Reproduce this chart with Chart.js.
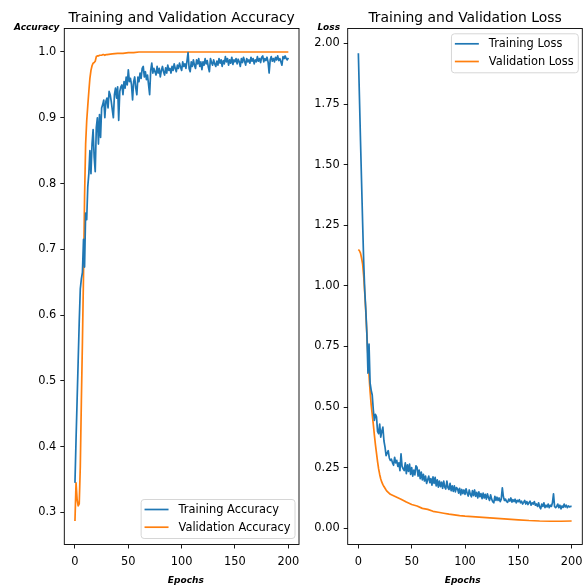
<!DOCTYPE html>
<html><head><meta charset="utf-8">
<script src="https://cdn.jsdelivr.net/npm/chart.js@4/dist/chart.umd.min.js"></script>
<style>
html,body{margin:0;padding:0;background:#fff;overflow:hidden;}
canvas{position:absolute;top:0;}
#c1{left:0;}
#c2{left:302px;}
</style></head><body>
<canvas id="c1" width="302" height="588"></canvas>
<canvas id="c2" width="284" height="588"></canvas>
<script>
// ---------- data ----------
const epochs = Array.from({length: 201}, (_, i) => i);
const trainAcc = [0.345,0.41,0.47,0.53,0.59,0.64,0.655,0.665,0.715,0.673,
0.755,0.745,0.795,0.815,0.85,0.815,0.86,0.882,0.84,0.818,
0.885,0.90,0.86,0.905,0.87,0.915,0.92,0.927,0.90,0.925,
0.93,0.915,0.94,0.935,0.925,0.912,0.90,0.935,0.945,0.93,
0.947,0.896,0.94,0.947,0.95,0.935,0.955,0.945,0.962,0.95,
0.973,0.955,0.96,0.95,0.927,0.955,0.962,0.945,0.935,0.962,
0.955,0.968,0.96,0.975,0.978,0.962,0.97,0.958,0.965,0.95,
0.935,0.972,0.983,0.968,0.975,0.97,0.965,0.978,0.968,0.975,
0.962,0.972,0.978,0.97,0.965,0.976,0.968,0.98,0.972,0.975,
0.968,0.978,0.972,0.982,0.975,0.97,0.98,0.975,0.983,0.977,
0.972,0.985,0.978,0.982,0.975,0.986,0.999,0.975,0.97,0.985,
0.978,0.988,0.98,0.975,0.988,0.982,0.99,0.978,0.985,0.973,
0.985,0.98,0.99,0.982,0.987,0.977,0.97,0.99,0.984,0.98,
0.988,0.982,0.978,0.986,0.98,0.99,0.983,0.988,0.978,0.987,
0.982,0.993,0.985,0.99,0.98,0.988,0.983,0.992,0.981,0.988,
0.985,0.99,0.982,0.989,0.985,0.978,0.99,0.984,0.992,0.986,
0.98,0.99,0.985,0.988,0.983,0.992,0.986,0.99,0.982,0.988,
0.985,0.993,0.986,0.99,0.984,0.992,0.994,0.985,0.99,0.987,
0.992,0.985,0.968,0.988,0.993,0.986,0.99,0.985,0.992,0.988,
0.994,0.987,0.99,0.985,0.98,0.993,0.99,0.994,0.99,0.988,
0.991];
const valAccEpochs = [0,1,2,3,4,5,6,7,8,9,10,11,12,13,14,15,16,17,18,19,20,21,22,23,24,25,26,27,28,29,30,
35,40,45,50,55,60,70,80,90,100,110,120,130,140,150,160,170,180,190,200];
const valAcc = [0.287,0.345,0.32,0.31,0.313,0.37,0.47,0.56,0.66,0.78,0.86,0.895,0.918,0.94,0.96,0.972,0.979,0.983,0.984,0.986,
0.993,0.994,0.994,0.995,0.995,0.995,0.996,0.996,0.995,0.996,0.996,
0.997,0.998,0.998,0.999,0.999,1.0,1.0,1.0,1.0,1.0,1.0,1.0,1.0,1.0,1.0,1.0,1.0,1.0,1.0,1.0];
const trainLoss = [1.96,1.78,1.60,1.43,1.26,1.10,0.98,0.90,0.80,0.64,
0.76,0.60,0.57,0.55,0.49,0.445,0.47,0.46,0.40,0.39,
0.43,0.376,0.40,0.417,0.36,0.335,0.30,0.31,0.32,0.29,
0.28,0.285,0.27,0.26,0.293,0.27,0.28,0.255,0.27,0.238,
0.307,0.255,0.245,0.238,0.27,0.225,0.262,0.235,0.265,0.222,
0.25,0.215,0.24,0.22,0.258,0.252,0.215,0.24,0.205,0.232,
0.2,0.222,0.195,0.215,0.185,0.2,0.215,0.188,0.205,0.178,
0.212,0.185,0.21,0.175,0.2,0.17,0.195,0.172,0.19,0.165,
0.195,0.17,0.162,0.195,0.168,0.16,0.185,0.155,0.175,0.152,
0.175,0.15,0.168,0.163,0.145,0.165,0.138,0.16,0.143,0.158,
0.14,0.163,0.145,0.133,0.158,0.14,0.13,0.155,0.135,0.158,
0.132,0.148,0.125,0.15,0.13,0.143,0.122,0.145,0.125,0.14,
0.12,0.142,0.126,0.115,0.138,0.12,0.11,0.105,0.132,0.115,
0.128,0.115,0.125,0.11,0.12,0.167,0.13,0.115,0.12,0.11,
0.107,0.12,0.112,0.125,0.108,0.118,0.11,0.12,0.105,0.115,
0.11,0.118,0.105,0.112,0.1,0.107,0.115,0.1,0.11,0.098,
0.105,0.112,0.095,0.105,0.1,0.11,0.095,0.1,0.09,0.105,
0.088,0.08,0.1,0.09,0.105,0.085,0.095,0.088,0.1,0.085,
0.095,0.09,0.105,0.142,0.09,0.085,0.09,0.1,0.085,0.095,
0.08,0.092,0.086,0.1,0.088,0.095,0.085,0.092,0.088,0.09,
0.09];
const valLossEpochs = [0,1,2,3,4,5,6,7,8,9,10,11,12,13,14,15,16,17,18,19,20,21,22,23,24,25,26,27,28,29,30,
35,40,45,50,55,60,65,70,75,80,85,90,95,100,110,120,130,140,150,160,170,180,190,200];
const valLoss = [1.15,1.145,1.135,1.115,1.09,1.04,0.97,0.89,0.80,0.71,0.63,0.565,0.51,0.47,0.43,0.385,0.345,0.31,0.275,0.245,
0.222,0.203,0.19,0.18,0.172,0.165,0.158,0.152,0.148,0.144,0.14,
0.13,0.12,0.108,0.098,0.092,0.082,0.078,0.07,0.066,0.062,0.058,0.055,0.052,0.05,
0.047,0.044,0.041,0.038,0.035,0.032,0.03,0.029,0.029,0.03];
const epochTicks = [0, 50, 100, 150, 200];
const accTicks = [0.3, 0.4, 0.5, 0.6, 0.7, 0.8, 0.9, 1.0];
const lossTicks = [0.0, 0.25, 0.5, 0.75, 1.0, 1.25, 1.5, 1.75, 2.0];

// ---------- helpers ----------
const BLUE = '#1f77b4', ORANGE = '#ff7f0e';
const FONT = '"DejaVu Sans", sans-serif';
const pts = (xs, ys) => xs.map((x, i) => ({x: x, y: ys[i]}));

const decor = {
  id: 'decor',
  afterDraw(chart, args, o) {
    const ctx = chart.ctx, a = chart.chartArea;
    ctx.save();
    // frame (all four spines)
    ctx.strokeStyle = '#000';
    ctx.lineWidth = 0.9;
    ctx.strokeRect(a.left, a.top, a.right - a.left, a.bottom - a.top);
    ctx.fillStyle = '#000';
    // title
    ctx.font = '13.9px ' + FONT;
    ctx.textAlign = 'center';
    ctx.textBaseline = 'alphabetic';
    ctx.fillText(o.title, (a.left + a.right) / 2, 22);
    // axis labels
    ctx.font = 'italic bold 9px ' + FONT;
    ctx.fillText(o.yLabel, o.yLabelX, 30);
    ctx.fillText(o.xLabel, o.xLabelX, 583);
    // legend
    const fs = 11.4;
    ctx.font = fs + 'px ' + FONT;
    const ds = chart.data.datasets;
    let tw = 0;
    ds.forEach(d => { tw = Math.max(tw, ctx.measureText(d.label).width); });
    const bw = 3.4 + 34 + tw + 4.6, bh = 39;
    const bx = a.right - 4 - bw;
    const by = o.legendPos === 'lower right' ? a.bottom - 6 - bh : a.top + 5.3;
    const r = 3;
    ctx.beginPath();
    ctx.moveTo(bx + r, by);
    ctx.arcTo(bx + bw, by, bx + bw, by + bh, r);
    ctx.arcTo(bx + bw, by + bh, bx, by + bh, r);
    ctx.arcTo(bx, by + bh, bx, by, r);
    ctx.arcTo(bx, by, bx + bw, by, r);
    ctx.closePath();
    ctx.fillStyle = 'rgba(255,255,255,0.8)';
    ctx.fill();
    ctx.strokeStyle = '#d6d6d6';
    ctx.lineWidth = 1;
    ctx.stroke();
    ctx.textAlign = 'left';
    ctx.textBaseline = 'middle';
    ds.forEach((d, i) => {
      const cy = by + 10 + i * 17.7;
      ctx.strokeStyle = d.borderColor;
      ctx.lineWidth = 1.7;
      ctx.beginPath();
      ctx.moveTo(bx + 3.4, cy);
      ctx.lineTo(bx + 3.4 + 24, cy);
      ctx.stroke();
      ctx.fillStyle = '#000';
      ctx.fillText(d.label, bx + 3.4 + 34, cy + 0.5);
    });
    ctx.restore();
  }
};

function makeChart(id, cfg) {
  const xScale = {
    type: 'linear', min: -10, max: 210,
    afterBuildTicks: s => { s.ticks = epochTicks.map(v => ({value: v})); },
    afterFit: s => { s.height = 588 - 544.5; s.paddingLeft = 0; s.paddingRight = 0; },
    grid: {display: true, drawOnChartArea: false, drawTicks: true, tickLength: 4, tickColor: '#000', tickWidth: 0.9},
    border: {display: false},
    ticks: {font: {family: FONT, size: 11.4}, color: '#000', padding: 7, maxRotation: 0, autoSkip: false,
            callback: v => String(v)}
  };
  const yScale = {
    type: 'linear', min: cfg.yMin, max: cfg.yMax,
    afterBuildTicks: s => { s.ticks = cfg.yTicks.map(v => ({value: v})); },
    afterFit: s => { s.width = cfg.yWidth; s.paddingTop = 0; s.paddingBottom = 0; },
    grid: {display: true, drawOnChartArea: false, drawTicks: true, tickLength: 4, tickColor: '#000', tickWidth: 0.9},
    border: {display: false},
    ticks: {font: {family: FONT, size: 11.4}, color: '#000', padding: 4, autoSkip: false,
            callback: v => v.toFixed(cfg.dec)}
  };
  return new Chart(document.getElementById(id), {
    type: 'line',
    data: {datasets: cfg.datasets.map((d, i) => ({
      label: d.label, data: d.data, borderColor: i === 0 ? BLUE : ORANGE,
      backgroundColor: i === 0 ? BLUE : ORANGE,
      borderWidth: 1.7, pointRadius: 0, tension: 0, fill: false,
      borderJoinStyle: 'round', borderCapStyle: 'butt'
    }))},
    options: {
      responsive: false, animation: false, devicePixelRatio: 1,
      layout: {padding: {top: 28.5, right: cfg.rightPad, bottom: 0, left: 0}},
      plugins: {legend: {display: false}, title: {display: false}, tooltip: {enabled: false},
                decor: cfg.decor},
      scales: {x: xScale, y: yScale}
    },
    plugins: [decor]
  });
}

makeChart('c1', {
  yMin: 0.2513, yMax: 1.0357, yTicks: accTicks, dec: 1, yWidth: 64.3, rightPad: 3,
  datasets: [
    {label: 'Training Accuracy', data: pts(epochs, trainAcc)},
    {label: 'Validation Accuracy', data: pts(valAccEpochs, valAcc)}
  ],
  decor: {title: 'Training and Validation Accuracy', yLabel: 'Accuracy', yLabelX: 36.7,
          xLabel: 'Epochs', xLabelX: 185.8, legendPos: 'lower right'}
});
makeChart('c2', {
  yMin: -0.067, yMax: 2.062, yTicks: lossTicks, dec: 2, yWidth: 45.7, rightPad: 3.7,
  datasets: [
    {label: 'Training Loss', data: pts(epochs, trainLoss)},
    {label: 'Validation Loss', data: pts(valLossEpochs, valLoss)}
  ],
  decor: {title: 'Training and Validation Loss', yLabel: 'Loss', yLabelX: 26.7,
          xLabel: 'Epochs', xLabelX: 160.7, legendPos: 'upper right'}
});
</script>
</body></html>
